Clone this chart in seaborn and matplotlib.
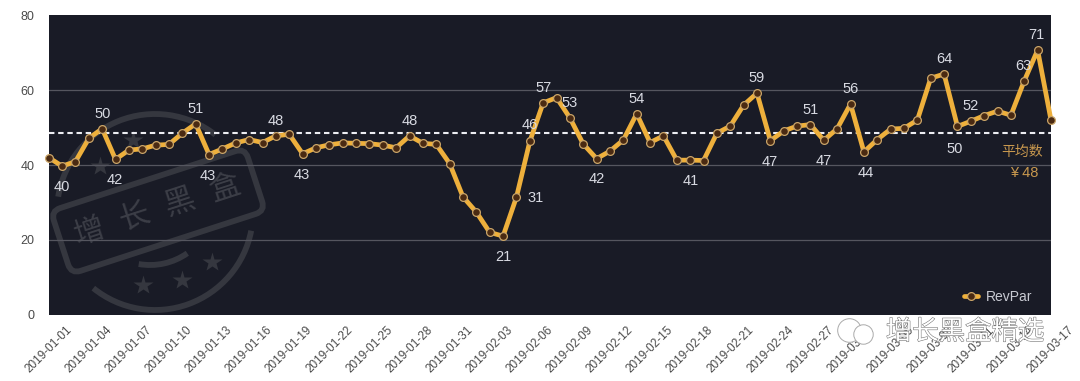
import numpy as np
import pandas as pd
import seaborn as sns
import matplotlib
matplotlib.use("Agg")
import matplotlib.pyplot as plt
import matplotlib.patheffects as pe
from matplotlib.patches import FancyBboxPatch, Arc
from matplotlib.transforms import Affine2D, ScaledTranslation

values = [42, 39.7, 40.9, 47.1, 49.7, 41.5, 44, 44.3, 45.3, 45.5, 48.5, 51, 42.8, 44.3, 45.9, 46.8, 46,
          47.8, 48.2, 43, 44.6, 45.4, 45.9, 45.8, 45.7, 45.3, 44.6, 47.8, 45.8, 45.5, 40.4, 31.5, 27.4,
          22, 21, 31.4, 46.3, 56.6, 58, 52.6, 45.6, 41.7, 43.7, 46.7, 53.7, 46, 47.8, 41.3, 41.3, 41.2,
          48.5, 50.4, 56, 59.2, 46.5, 49.1, 50.4, 50.8, 46.6, 49.7, 56.3, 43.5, 46.8, 49.6, 49.8, 52,
          63.2, 64.3, 50.3, 51.7, 53.2, 54.4, 53.3, 62.5, 70.7, 52]
dates = pd.date_range("2019-01-01", periods=len(values)).strftime("%Y-%m-%d").tolist()
mean_value = 48.5
y_ticks = [0, 20, 40, 60, 80]
series_name = "RevPar"
label_index = [1, 4, 5, 11, 12, 17, 19, 27, 34, 35, 36, 37, 39, 41, 44, 48, 53, 54, 57, 58, 60, 61, 67, 68, 69, 73, 74]
label_text = ["40", "50", "42", "51", "43", "48", "43", "48", "21", "31", "46", "57", "53", "42", "54", "41",
              "59", "47", "51", "47", "56", "44", "64", "50", "52", "63", "71"]
label_dx = [0, 0, -1, 0, -1, 0, -1, 0, 0, 19, 0, 0, 0, 0, 0, 1, 0, -1, 0, 0, 0, 2, 0, -3, 0, -1, -1]
label_dy = [-21, 15, -21, 15, -21, 15, -21, 15, -21, -1, 16, 15, 15, -20, 15, -21, 15, -21, 15, -21, 15, -21, 15, -23, 15, 15, 15]
stamp_text = "增  长  黑  盒"
mark_text = "增长黑盒精选"

BG = "#191b26"
GOLD = "#eeb03c"
sns.set_theme(style="white")
plt.rcParams["font.family"] = ["Liberation Sans", "Noto Sans CJK SC", "DejaVu Sans"]

W, H = 1080, 381
fig = plt.figure(figsize=(W / 100, H / 100), dpi=100, facecolor="white")
ax = fig.add_axes([48.7 / W, 1 - 314.7 / H, (1051 - 48.7) / W, (314.7 - 15.3) / H])
ax.set_facecolor(BG)

df = pd.DataFrame({"date": np.arange(len(values)), "value": values})

# image-pixel transform (y down)
px = Affine2D().scale(1, -1).translate(0, H)

# stamp watermark (behind the data)
stamp_col = "#35373f"
cx, cy = 158, 211
tr = Affine2D().rotate_deg_around(cx, cy, -18) + px
ax.add_patch(FancyBboxPatch((cx - 102, cy - 33), 204, 66, boxstyle="round,pad=0,rounding_size=10", fill=False,
                            ec=stamp_col, lw=4.2, transform=tr, zorder=1))
ax.add_patch(Arc((155, 212), 196, 196, theta1=11, theta2=129, color=stamp_col, lw=4.2, transform=px, zorder=1))
ax.add_patch(Arc((155, 212), 196, 196, theta1=189, theta2=308, color=stamp_col, lw=4.2, transform=px, zorder=1))
ax.add_patch(Arc((150, 200), 130, 130, theta1=55, theta2=100, color=stamp_col, lw=4.2, transform=px, zorder=1))
ax.text(cx, cy, stamp_text, transform=px, rotation=18, rotation_mode="anchor", ha="center", va="center",
        fontsize=22, color="#3c3e47", zorder=1)
for sx, sy in [(143, 285), (182, 280), (212, 262), (100, 166), (133, 140)]:
    ax.plot([sx], [sy], marker="*", ms=15, color=stamp_col, mec="none", transform=px, zorder=1)

for t in y_ticks[1:-1]:
    ax.axhline(t, color="#55565f", lw=0.9, zorder=2)
ax.axhline(mean_value, color="#ecedf2", lw=1.5, dashes=(2.6, 1.8), zorder=3)

sns.lineplot(data=df, x="date", y="value", ax=ax, color=GOLD, lw=3.4, marker="o", ms=5.6,
             mfc="#4a2a12", mec="#c9a468", mew=0.9, label=series_name, zorder=4, clip_on=False,
             errorbar=None)

ax.set_xlim(0, len(values) - 1)
ax.set_ylim(0, 80)
ax.set_yticks(y_ticks)
ax.set_xticks(df["date"].iloc[::3])
ax.set_xticklabels(dates[::3], rotation=45, ha="right", rotation_mode="anchor")
ax.tick_params(axis="both", length=0, labelsize=9, labelcolor="#4a4a4a")
ax.tick_params(axis="x", pad=9, labelsize=8.5)
ax.tick_params(axis="y", pad=10)
shift = ScaledTranslation(17 / 100, 3 / 100, fig.dpi_scale_trans)
for lab in ax.get_xticklabels():
    lab.set_transform(lab.get_transform() + shift)
ax.set_xlabel("")
ax.set_ylabel("")
for s in ax.spines.values():
    s.set_visible(False)

for i, t, dx, dy in zip(label_index, label_text, label_dx, label_dy):
    ax.annotate(t, (i, values[i]), xytext=(dx * 0.72, dy * 0.72), textcoords="offset points", ha="center",
                va="center", fontsize=10.5, color="#d8dae2", zorder=5)

ax.text(1022, 152, "平均数", transform=px, ha="center", va="center", fontsize=10, color="#c8984e", zorder=5)
ax.text(1024, 173, "¥ 48", transform=px, ha="center", va="center", fontsize=10.5, color="#c8984e", zorder=5)

leg = ax.legend(loc="lower right", frameon=False, fontsize=10, labelcolor="#c8cad2", handlelength=1.0,
                handletextpad=0.6, bbox_to_anchor=(0.99, 0.008), borderaxespad=0.2)

# bottom-right watermark
ax.text(965, 332, mark_text, transform=px, ha="center", va="center", fontsize=19, color="white", zorder=6,
        clip_on=False, path_effects=[pe.withStroke(linewidth=0.8, foreground="#777777")])
for bx, by, d in [(849, 330, 17), (863, 334, 14)]:
    ax.plot([bx], [by], marker="o", ms=d, mfc="white", mec="#aaaaaa", mew=0.7, transform=px, clip_on=False, zorder=6)

fig.savefig("out.png", dpi=100, facecolor="white")
